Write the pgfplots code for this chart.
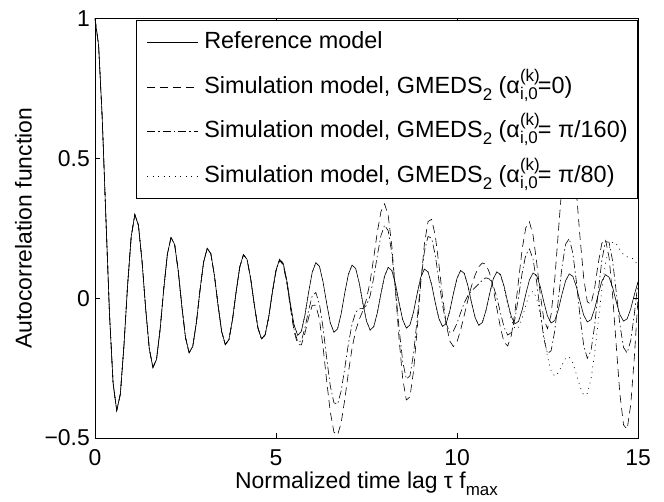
\documentclass[border=0pt]{standalone}
\usepackage{fontspec}
\setmainfont{Liberation Sans}
\usepackage{pgfplots}
\usepackage{pgfplotstable}
\pgfplotsset{compat=1.18}
\newcommand{\smallsz}{\fontsize{17}{17}\selectfont}
\newcommand{\aik}{α\rlap{\raisebox{12bp}{\smallsz (k)}}\raisebox{-6bp}{\smallsz i,0}}
\newcommand{\subtwo}{\raisebox{-7bp}{\smallsz 2}}
\newcommand{\chartfont}{\fontsize{23}{27}\selectfont}
\newcommand{\legfont}{\fontsize{23.5}{27}\selectfont}

\pgfplotstableread{
t r d c s
0.0 1.000 1.000 1.000 1.000
0.1 0.904 0.904 0.904 0.904
0.2 0.643 0.643 0.643 0.643
0.3 0.291 0.291 0.291 0.291
0.4 -0.055 -0.055 -0.055 -0.055
0.5 -0.304 -0.304 -0.304 -0.304
0.6 -0.402 -0.402 -0.402 -0.402
0.7 -0.343 -0.343 -0.343 -0.343
0.8 -0.169 -0.169 -0.169 -0.169
0.9 0.045 0.045 0.045 0.045
1.0 0.220 0.220 0.220 0.220
1.1 0.299 0.299 0.299 0.299
1.2 0.261 0.261 0.261 0.261
1.3 0.131 0.131 0.131 0.131
1.4 -0.038 -0.038 -0.038 -0.038
1.5 -0.181 -0.181 -0.181 -0.181
1.6 -0.248 -0.248 -0.248 -0.248
1.7 -0.219 -0.219 -0.219 -0.219
1.8 -0.110 -0.110 -0.110 -0.110
1.9 0.034 0.034 0.034 0.034
2.0 0.158 0.158 0.158 0.158
2.1 0.217 0.217 0.217 0.217
2.2 0.192 0.192 0.192 0.192
2.3 0.097 0.097 0.097 0.097
2.4 -0.030 -0.030 -0.030 -0.030
2.5 -0.141 -0.141 -0.141 -0.141
2.6 -0.195 -0.195 -0.195 -0.195
2.7 -0.173 -0.173 -0.173 -0.173
2.8 -0.088 -0.088 -0.088 -0.088
2.9 0.028 0.028 0.028 0.028
3.0 0.129 0.129 0.129 0.129
3.1 0.178 0.178 0.178 0.178
3.2 0.159 0.159 0.159 0.159
3.3 0.080 0.080 0.080 0.080
3.4 -0.026 -0.026 -0.026 -0.026
3.5 -0.120 -0.120 -0.120 -0.120
3.6 -0.166 -0.166 -0.166 -0.166
3.7 -0.148 -0.148 -0.148 -0.148
3.8 -0.075 -0.075 -0.075 -0.075
3.9 0.024 0.024 0.024 0.024
4.0 0.112 0.112 0.112 0.112
4.1 0.155 0.155 0.155 0.155
4.2 0.139 0.139 0.139 0.139
4.3 0.070 0.070 0.070 0.070
4.4 -0.023 -0.023 -0.023 -0.023
4.5 -0.106 -0.106 -0.106 -0.106
4.6 -0.146 -0.146 -0.146 -0.146
4.7 -0.131 -0.131 -0.131 -0.131
4.8 -0.067 -0.067 -0.067 -0.067
4.9 0.022 0.022 0.022 0.022
5.0 0.100 0.098 0.098 0.100
5.1 0.139 0.135 0.136 0.139
5.2 0.125 0.119 0.120 0.125
5.3 0.063 0.053 0.056 0.063
5.4 -0.021 -0.036 -0.032 -0.021
5.5 -0.096 -0.119 -0.112 -0.096
5.6 -0.133 -0.166 -0.156 -0.133
5.7 -0.119 -0.167 -0.153 -0.119
5.8 -0.060 -0.125 -0.106 -0.060
5.9 0.020 -0.070 -0.044 0.020
6.0 0.092 -0.026 0.008 0.092
6.1 0.127 -0.025 0.020 0.127
6.2 0.114 -0.076 -0.021 0.114
6.3 0.058 -0.175 -0.106 0.058
6.4 -0.019 -0.296 -0.215 -0.019
6.5 -0.088 -0.407 -0.314 -0.088
6.6 -0.122 -0.479 -0.374 -0.122
6.7 -0.110 -0.490 -0.379 -0.110
6.8 -0.056 -0.446 -0.332 -0.056
6.9 0.019 -0.362 -0.250 0.019
7.0 0.085 -0.266 -0.163 0.085
7.1 0.118 -0.180 -0.093 0.118
7.2 0.106 -0.116 -0.051 0.106
7.3 0.054 -0.076 -0.038 0.054
7.4 -0.018 -0.045 -0.037 -0.018
7.5 -0.082 -0.003 -0.026 -0.082
7.6 -0.114 0.060 0.009 -0.114
7.7 -0.102 0.145 0.073 -0.102
7.8 -0.052 0.237 0.153 -0.052
7.9 0.017 0.310 0.224 0.017
8.0 0.079 0.337 0.261 0.079
8.1 0.110 0.295 0.241 0.110
8.2 0.099 0.186 0.160 0.099
8.3 0.050 0.027 0.033 0.050
8.4 -0.017 -0.146 -0.108 -0.017
8.5 -0.077 -0.288 -0.226 -0.077
8.6 -0.107 -0.364 -0.289 -0.107
8.7 -0.096 -0.353 -0.278 -0.096
8.8 -0.049 -0.260 -0.198 -0.049
8.9 0.016 -0.111 -0.074 0.016
9.0 0.075 0.055 0.061 0.075
9.1 0.104 0.194 0.167 0.104
9.2 0.094 0.274 0.221 0.094
9.3 0.048 0.282 0.214 0.048
9.4 -0.016 0.223 0.153 -0.016
9.5 -0.073 0.121 0.064 -0.073
9.6 -0.101 0.007 -0.025 -0.101
9.7 -0.091 -0.091 -0.091 -0.091
9.8 -0.046 -0.153 -0.122 -0.046
9.9 0.016 -0.173 -0.118 0.016
10.0 0.071 -0.156 -0.090 0.071
10.1 0.099 -0.114 -0.052 0.099
10.2 0.089 -0.061 -0.017 0.089
10.3 0.045 -0.007 0.009 0.045
10.4 -0.015 0.043 0.026 -0.015
10.5 -0.069 0.083 0.038 -0.069
10.6 -0.097 0.112 0.051 -0.097
10.7 -0.087 0.126 0.064 -0.087
10.8 -0.044 0.121 0.073 -0.044
10.9 0.015 0.090 0.068 0.015
11.0 0.068 0.036 0.045 0.068
11.1 0.094 -0.036 0.002 0.094
11.2 0.085 -0.105 -0.052 0.081
11.3 0.043 -0.158 -0.103 0.037
11.4 -0.015 -0.171 -0.132 -0.024
11.5 -0.066 -0.134 -0.123 -0.078
11.6 -0.092 -0.050 -0.074 -0.109
11.7 -0.083 0.063 0.004 -0.106
11.8 -0.042 0.175 0.090 -0.072
11.9 0.014 0.252 0.155 -0.025
12.0 0.065 0.273 0.176 0.014
12.1 0.090 0.226 0.140 0.025
12.2 0.081 0.129 0.058 0.000
12.3 0.041 0.014 -0.049 -0.059
12.4 -0.014 -0.077 -0.145 -0.135
12.5 -0.064 -0.109 -0.198 -0.209
12.6 -0.089 -0.058 -0.188 -0.260
12.7 -0.080 0.067 -0.117 -0.279
12.8 -0.041 0.237 -0.005 -0.267
12.9 0.014 0.405 0.112 -0.239
13.0 0.062 0.524 0.193 -0.215
13.1 0.087 0.562 0.213 -0.210
13.2 0.078 0.505 0.161 -0.231
13.3 0.040 0.377 0.057 -0.273
13.4 -0.013 0.215 -0.067 -0.317
13.5 -0.061 0.072 -0.169 -0.347
13.6 -0.085 -0.013 -0.215 -0.341
13.7 -0.077 -0.022 -0.189 -0.291
13.8 -0.039 0.035 -0.100 -0.200
13.9 0.013 0.123 0.021 -0.086
14.0 0.060 0.196 0.134 0.029
14.1 0.084 0.211 0.202 0.123
14.2 0.075 0.146 0.200 0.180
14.3 0.038 0.008 0.132 0.201
14.4 -0.013 -0.172 0.021 0.194
14.5 -0.059 -0.343 -0.095 0.174
14.6 -0.082 -0.453 -0.176 0.156
14.7 -0.074 -0.469 -0.196 0.148
14.8 -0.038 -0.380 -0.151 0.144
14.9 0.013 -0.209 -0.055 0.139
15.0 0.058 -0.001 0.056 0.114
}\acftable

\begin{document}
\begin{tikzpicture}
\begin{axis}[
  at={(0,0)}, anchor=south west,
  scale only axis, width=543bp, height=419.5bp,
  xmin=0, xmax=15, ymin=-0.5, ymax=1,
  xtick={0,5,10,15}, xticklabels={0,5,10,15},
  ytick={-0.5,0,0.5,1}, yticklabels={−0.5,0,0.5,1},
  tick align=inside, tick pos=both, major tick length=5.4bp,
  axis line style={line width=0.8bp},
  every tick/.style={black, line width=0.6bp},
  tick label style={font=\chartfont},
  xticklabel style={anchor=north, inner sep=0pt, yshift=-11.5bp},
  yticklabel style={anchor=east, inner sep=0pt, xshift=-5bp},
  xlabel={Normalized time lag τ f\raisebox{-7bp}{\smallsz max}},
  ylabel={Autocorrelation function},
  label style={font=\chartfont},
  xlabel style={at={(axis description cs:0.5,0)}, anchor=base, yshift=-50bp, inner sep=0pt},
  ylabel style={at={(axis description cs:-0.116,0.5)}, anchor=south, inner sep=0pt},
  legend cell align=left,
  legend style={at={(axis description cs:1,1)}, anchor=north east, yshift=-1.5bp,
    draw=black, line width=0.8bp, fill=white, font=\legfont,
    inner xsep=10bp, inner ysep=0pt, row sep=0pt,
    nodes={inner sep=0pt, text height=28.25bp, text depth=16.25bp},
    /tikz/every odd column/.append style={column sep=6bp}},
  legend image code/.code={\draw[#1, line width=0.6bp] (0bp,0bp) -- (51bp,0bp);},
]
\addplot[black, line width=0.6bp] table[x=t, y=r]{\acftable};
\addlegendentry{Reference model}
\addplot[black, line width=0.6bp, dash pattern=on 8bp off 5bp] table[x=t, y=d]{\acftable};
\addlegendentry{Simulation model, GMEDS\subtwo\ (\aik=0)}
\addplot[black, line width=0.6bp, dash pattern=on 8bp off 3bp on 1.5bp off 3bp] table[x=t, y=c]{\acftable};
\addlegendentry{Simulation model, GMEDS\subtwo\ (\aik= π/160)}
\addplot[black, line width=0.6bp, dash pattern=on 1bp off 4.5bp] table[x=t, y=s]{\acftable};
\addlegendentry{Simulation model, GMEDS\subtwo\ (\aik= π/80)}
\end{axis}
\pgfresetboundingbox
\useasboundingbox (-95bp,-64bp) rectangle (569bp,438bp);
\end{tikzpicture}
\end{document}
